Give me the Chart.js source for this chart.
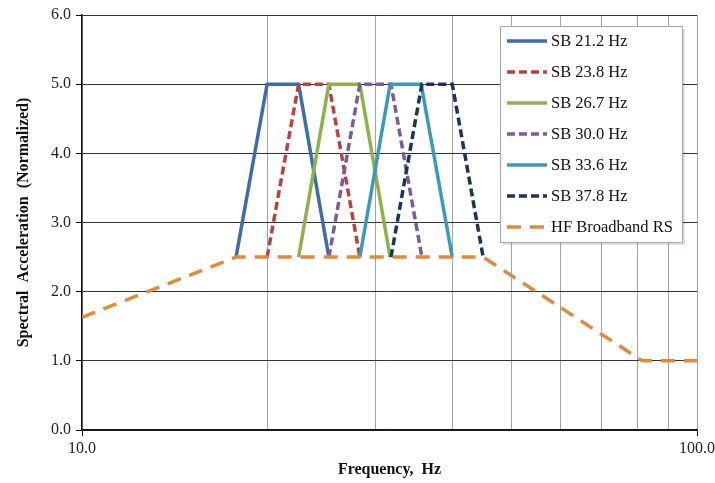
<!DOCTYPE html>
<html>
<head>
<meta charset="utf-8">
<script src="https://cdn.jsdelivr.net/npm/chart.js@4/dist/chart.umd.min.js"></script>
<style>
  html, body { margin: 0; padding: 0; background: #fff; }
  #wrap { width: 715px; height: 483px; position: relative; }
</style>
</head>
<body>
<div id="wrap"><canvas id="spectrumChart"></canvas></div>
<script>
// series names, in legend order
const seriesNames = ['SB 21.2 Hz', 'SB 23.8 Hz', 'SB 26.7 Hz', 'SB 30.0 Hz', 'SB 33.6 Hz', 'SB 37.8 Hz', 'HF Broadband RS'];

// sine beat envelopes (frequency in Hz, normalized acceleration)
const sbLevel = [2.5, 5.0, 5.0, 2.5];
const sb212Freq = [17.8, 20.0, 22.5, 25.2];
const sb238Freq = [20.0, 22.5, 25.2, 28.3];
const sb267Freq = [22.5, 25.2, 28.3, 31.7];
const sb300Freq = [25.2, 28.3, 31.8, 35.7];
const sb336Freq = [28.3, 31.7, 35.6, 40.0];
const sb378Freq = [31.8, 35.7, 40.0, 44.9];

// broadband required response
const hfFreq = [10.0, 17.8, 44.9, 81.5, 100.0];
const hfLevel = [1.63, 2.5, 2.5, 1.0, 1.0];

// axis tick labels
const xTickLabels = { 10: '10.0', 100: '100.0' };
const xGridFreqs = [10, 20, 30, 40, 50, 60, 70, 80, 90, 100];
const yTicks = [0, 1, 2, 3, 4, 5, 6];

const colors = ['#3d6dab', '#b94241', '#8fb14a', '#7a5b9c', '#3b9bb6', '#1c3556', '#e08a3c'];
const dashes = [[], [8, 4], [], [8, 4], [], [8, 4], [14, 9]];

function pts(xs, ys) {
  return xs.map((x, i) => ({ x: x, y: ys[i] }));
}

const seriesData = [
  pts(sb212Freq, sbLevel),
  pts(sb238Freq, sbLevel),
  pts(sb267Freq, sbLevel),
  pts(sb300Freq, sbLevel),
  pts(sb336Freq, sbLevel),
  pts(sb378Freq, sbLevel),
  pts(hfFreq, hfLevel)
];

const serif = '"Liberation Serif", "DejaVu Serif", serif';

// legend drawn inside the plot, Excel style
const boxLegend = {
  id: 'boxLegend',
  afterDraw(chart) {
    const c = chart.ctx;
    const x0 = 500, y0 = 26, w = 182, h = 216;
    c.save();
    // soft shadow
    c.fillStyle = 'rgba(0,0,0,0.12)';
    c.fillRect(x0 + 3, y0 + 3, w, h);
    c.fillStyle = '#fff';
    c.fillRect(x0, y0, w, h);
    c.strokeStyle = '#9aa8b4';
    c.lineWidth = 1;
    c.strokeRect(x0 + 0.5, y0 + 0.5, w, h);
    c.font = '16.5px ' + serif;
    c.textBaseline = 'middle';
    c.fillStyle = '#111';
    seriesNames.forEach((name, i) => {
      const y = 41 + i * 31;
      c.beginPath();
      c.setLineDash(dashes[i]);
      c.strokeStyle = colors[i];
      c.lineWidth = 3.5;
      c.moveTo(507, y);
      c.lineTo(547, y);
      c.stroke();
      c.setLineDash([]);
      c.fillText(name, 551, y + 1);
    });
    c.restore();
  }
};

const ctx = document.getElementById('spectrumChart').getContext('2d');
const spectrumChart = new Chart(ctx, {
  type: 'line',
  data: {
    datasets: seriesNames.map((name, i) => ({
      label: name,
      data: seriesData[i],
      borderColor: colors[i],
      borderDash: dashes[i],
      borderWidth: 3.5,
      pointRadius: 0,
      fill: false,
      tension: 0,
      order: seriesNames.length - i
    }))
  },
  options: {
    responsive: true,
    maintainAspectRatio: false,
    animation: false,
    layout: { padding: { left: 10, right: 18, top: 15, bottom: 0 } },
    plugins: {
      legend: { display: false },
      tooltip: { enabled: false }
    },
    scales: {
      x: {
        type: 'logarithmic',
        min: 10,
        max: 100,
        afterFit: (scale) => {
          scale.height = 53;
          scale.paddingLeft = 0;
          scale.paddingRight = 0;
        },
        afterBuildTicks: (scale) => {
          scale.ticks = xGridFreqs.map(v => ({ value: v }));
        },
        ticks: {
          autoSkip: false,
          maxRotation: 0,
          padding: 3,
          color: '#222',
          font: { family: serif, size: 16 },
          callback: (v) => xTickLabels[v] || ''
        },
        grid: {
          color: '#a3a3a3',
          lineWidth: 1,
          tickLength: 6,
          tickColor: (c) => (xTickLabels[c.tick && c.tick.value] ? '#000' : 'rgba(0,0,0,0)')
        },
        border: { color: '#111', width: 1.5 },
        title: {
          display: true,
          text: 'Frequency,  Hz',
          color: '#111',
          font: { family: serif, size: 16, weight: 'bold' },
          padding: { top: 4, bottom: 4 }
        }
      },
      y: {
        min: 0,
        max: 6,
        afterFit: (scale) => { scale.width = 72; },
        afterBuildTicks: (scale) => {
          scale.ticks = yTicks.map(v => ({ value: v }));
        },
        ticks: {
          padding: 5,
          color: '#222',
          font: { family: serif, size: 16 },
          callback: (v) => Number(v).toFixed(1)
        },
        grid: {
          color: '#333',
          lineWidth: 1,
          tickLength: 6,
          tickColor: '#000'
        },
        border: { color: '#111', width: 1.5 },
        title: {
          display: true,
          text: 'Spectral  Acceleration  (Normalized)',
          color: '#111',
          font: { family: serif, size: 16, weight: 'bold' },
          padding: { top: 4, bottom: 4 }
        }
      }
    }
  },
  plugins: [boxLegend]
});
</script>
</body>
</html>
